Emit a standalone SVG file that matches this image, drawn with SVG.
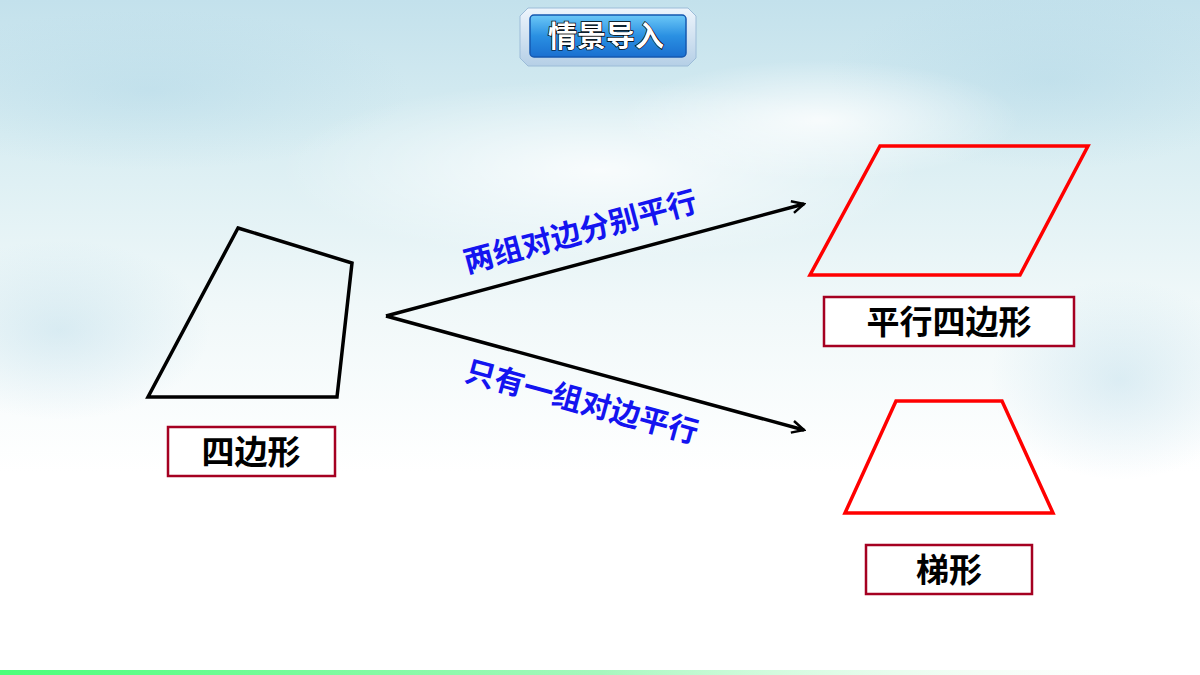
<svg xmlns="http://www.w3.org/2000/svg" width="1200" height="675" viewBox="0 0 1200 675">
<defs>
<linearGradient id="bg" x1="0" y1="0" x2="0" y2="1">
<stop offset="0" stop-color="#c3e1ec"/>
<stop offset="0.2" stop-color="#d8edf2"/>
<stop offset="0.45" stop-color="#f0f8f9"/>
<stop offset="0.7" stop-color="#ffffff"/>
</linearGradient>
<radialGradient id="cloud1" cx="0.5" cy="0.5" r="0.5">
<stop offset="0" stop-color="#ffffff" stop-opacity="0.8"/>
<stop offset="1" stop-color="#ffffff" stop-opacity="0"/>
</radialGradient>
<radialGradient id="cloud2" cx="0.5" cy="0.5" r="0.5">
<stop offset="0" stop-color="#a8d2e4" stop-opacity="0.35"/>
<stop offset="1" stop-color="#a8d2e4" stop-opacity="0"/>
</radialGradient>
<linearGradient id="green" x1="0" y1="0" x2="1" y2="0">
<stop offset="0" stop-color="#4cff7a"/>
<stop offset="0.5" stop-color="#a6f7bd"/>
<stop offset="1" stop-color="#ffffff" stop-opacity="0"/>
</linearGradient>
<linearGradient id="badge" x1="0" y1="0" x2="0" y2="1">
<stop offset="0" stop-color="#6cc8f7"/>
<stop offset="0.5" stop-color="#2a90e2"/>
<stop offset="1" stop-color="#1a6fd0"/>
</linearGradient>
<linearGradient id="frame" x1="0" y1="0" x2="0" y2="1">
<stop offset="0" stop-color="#eef5fc"/>
<stop offset="1" stop-color="#b5cfe6"/>
</linearGradient>
<marker id="arr" markerWidth="16" markerHeight="14" refX="14" refY="7" orient="auto" markerUnits="userSpaceOnUse">
<path d="M2,1 L14,7 L2,13" fill="none" stroke="#000" stroke-width="2.5"/>
</marker>
<style>
.lbl{fill:#fff;stroke:#a50021;stroke-width:2.5}
.lt{font-family:"Noto Sans CJK SC","Noto Sans",sans-serif;font-weight:bold;font-size:33px;fill:#000;text-anchor:middle}
.bt{font-family:"Noto Sans CJK SC","Noto Sans",sans-serif;font-weight:bold;font-size:30px;fill:#1414f0;text-anchor:middle}
.red{fill:none;stroke:#ff0000;stroke-width:3.5}
.conn{stroke:#000;stroke-width:3.5;fill:none}
</style>
</defs>
<rect width="1200" height="675" fill="url(#bg)"/>
<ellipse cx="150" cy="90" rx="260" ry="80" fill="url(#cloud2)"/>
<ellipse cx="1050" cy="80" rx="220" ry="90" fill="url(#cloud2)"/>
<ellipse cx="60" cy="330" rx="150" ry="90" fill="url(#cloud2)"/>
<ellipse cx="1120" cy="380" rx="130" ry="100" fill="url(#cloud2)"/>
<ellipse cx="600" cy="170" rx="320" ry="90" fill="url(#cloud1)"/>
<ellipse cx="820" cy="120" rx="200" ry="60" fill="url(#cloud1)"/>
<rect x="0" y="670" width="1200" height="5" fill="url(#green)"/>

<g id="title">
<path d="M528,8 L688,8 L696,16 L696,58 L688,66 L528,66 L520,58 L520,16 Z" fill="url(#frame)" stroke="#9cbcd8" stroke-width="1"/>
<rect x="530" y="15" width="156" height="42" rx="4" fill="url(#badge)" stroke="#1558b0" stroke-width="1.5"/>
<text x="606" y="47" font-family="'Noto Sans CJK SC',sans-serif" font-size="29" font-weight="bold" fill="#fff" stroke="#000" stroke-width="1.4" paint-order="stroke" text-anchor="middle">情景导入</text>
</g>

<g id="quad">
<polygon points="238,228 352,263 337,397 148,397" fill="none" stroke="#000" stroke-width="3.5"/>
<rect class="lbl" x="168" y="427" width="167" height="49"/>
<text class="lt" x="251" y="464">四边形</text>
</g>

<g id="parallelogram">
<polygon class="red" points="880,146 1088,146 1020,275 810,275"/>
<rect class="lbl" x="824" y="297" width="250" height="49"/>
<text class="lt" x="949" y="334">平行四边形</text>
</g>

<g id="trapezoid">
<polygon class="red" points="896,401 1002,401 1053,513 845,513"/>
<rect class="lbl" x="866" y="545" width="166" height="49"/>
<text class="lt" x="949" y="582">梯形</text>
</g>

<g id="connectors">
<line class="conn" x1="386" y1="316" x2="804" y2="204" marker-end="url(#arr)"/>
<line class="conn" x1="386" y1="316" x2="804" y2="430" marker-end="url(#arr)"/>
<text class="bt" transform="translate(583,242) rotate(-15)">两组对边分别平行</text>
<text class="bt" transform="translate(579,412) rotate(15.3)">只有一组对边平行</text>
</g>
</svg>
